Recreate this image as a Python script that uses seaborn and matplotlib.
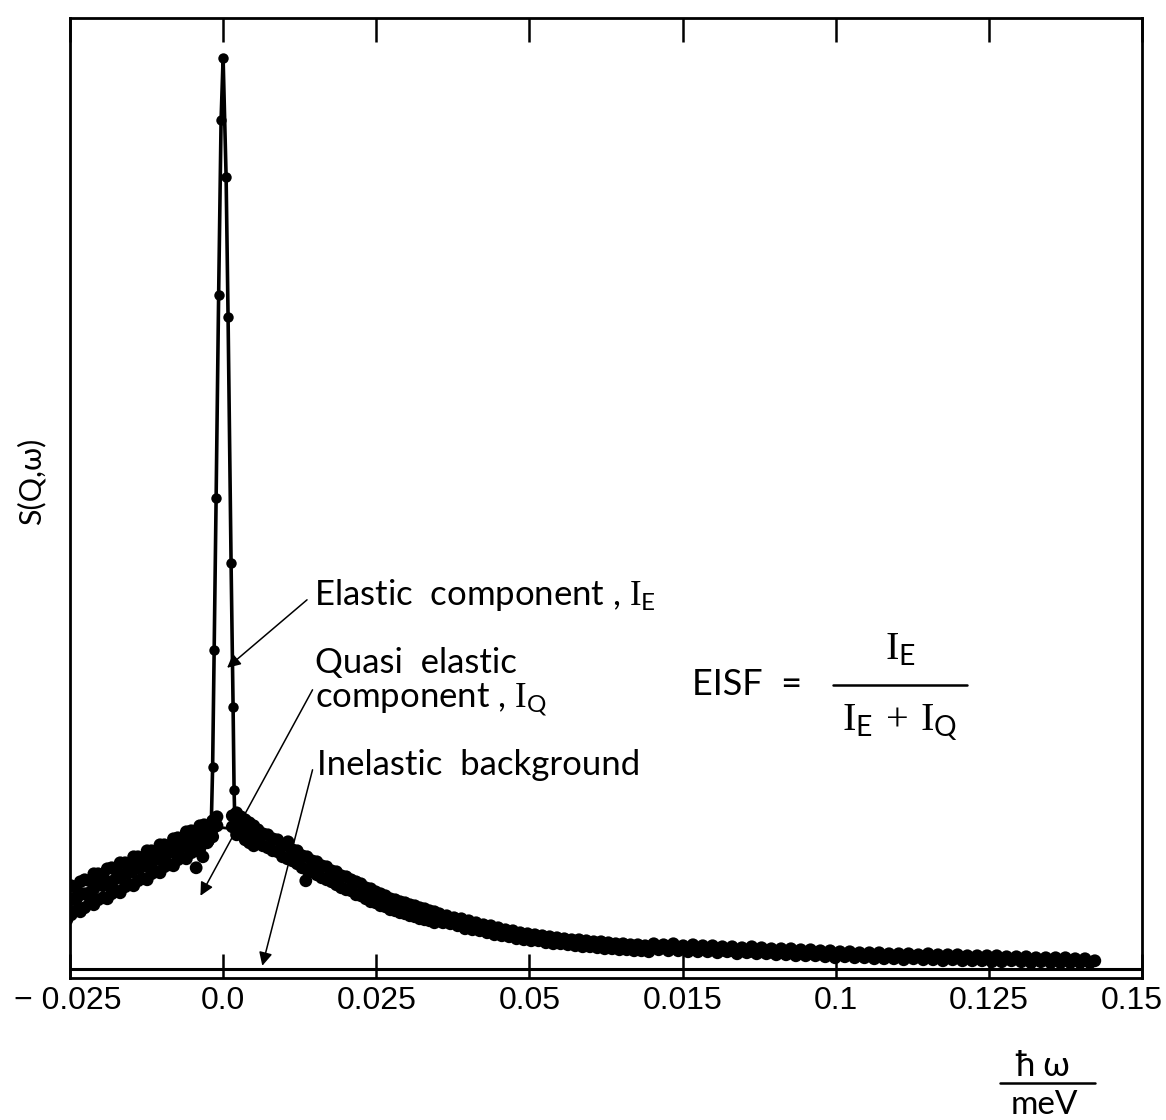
import matplotlib
matplotlib.use("Agg")
import matplotlib.pyplot as plt
from matplotlib.lines import Line2D
from matplotlib.transforms import ScaledTranslation
import numpy as np
import pandas as pd
import seaborn as sns

# energy transfer (meV) and S(Q,w) (arb. units)

# left wing of the quasi-elastic band
hw_left = [-0.0255, -0.0255, -0.0255, -0.0248, -0.0248, -0.0248, -0.0240, -0.0240, -0.0240,
           -0.0233, -0.0233, -0.0233, -0.0226, -0.0226, -0.0226, -0.0218, -0.0218, -0.0218,
           -0.0211, -0.0211, -0.0211, -0.0204, -0.0204, -0.0204, -0.0196, -0.0196, -0.0196,
           -0.0189, -0.0189, -0.0189, -0.0182, -0.0182, -0.0182, -0.0175, -0.0175, -0.0175,
           -0.0168, -0.0168, -0.0168, -0.0160, -0.0160, -0.0160, -0.0153, -0.0153, -0.0153,
           -0.0146, -0.0146, -0.0146, -0.0139, -0.0139, -0.0139, -0.0132, -0.0132, -0.0132,
           -0.0124, -0.0124, -0.0124, -0.0117, -0.0117, -0.0117, -0.0110, -0.0110, -0.0110,
           -0.0103, -0.0103, -0.0103, -0.0096, -0.0096, -0.0096, -0.0088, -0.0088, -0.0088,
           -0.0081, -0.0081, -0.0081, -0.0074, -0.0074, -0.0074, -0.0067, -0.0067, -0.0067,
           -0.0060, -0.0060, -0.0060, -0.0052, -0.0052, -0.0052, -0.0045, -0.0045, -0.0045,
           -0.0038, -0.0038, -0.0038, -0.0031, -0.0031, -0.0031, -0.0024, -0.0024, -0.0024,
           -0.0017, -0.0017, -0.0017, -0.0033, -0.0026, -0.0044]
s_left = [8.2, 6.5, 4.9, 8.3, 7.0, 5.4, 8.1, 6.9, 5.8,
          8.7, 7.4, 5.7, 8.9, 7.5, 6.1, 8.8, 7.6, 6.5,
          9.5, 8.0, 6.4, 9.5, 8.4, 6.9, 9.3, 8.3, 7.1,
          10.0, 8.6, 7.0, 10.1, 8.7, 7.5, 9.9, 9.0, 7.8,
          10.6, 9.2, 7.6, 10.6, 9.5, 8.2, 10.4, 9.6, 8.4,
          11.2, 9.9, 8.3, 11.2, 10.1, 8.8, 11.0, 10.2, 9.0,
          11.8, 10.5, 8.9, 11.8, 10.8, 9.5, 11.6, 10.9, 9.7,
          12.4, 11.2, 9.6, 12.4, 11.3, 10.2, 12.2, 11.6, 10.4,
          13.0, 11.8, 10.3, 13.1, 12.0, 10.9, 13.0, 12.2, 11.1,
          13.7, 12.5, 11.0, 13.8, 12.7, 11.6, 13.6, 12.9, 11.8,
          14.3, 13.1, 12.0, 14.4, 13.4, 12.6, 14.3, 13.7, 12.8,
          14.8, 14.0, 13.2, 11.2, 12.6, 10.1]

# top of the band, under the elastic peak
hw_top = [-0.0010, -0.0010, 0.0015, 0.0015, 0.0022, 0.0022, 0.0022, 0.0029, 0.0029,
          0.0036, 0.0036, 0.0036, 0.0043, 0.0043, 0.0043, 0.0050, 0.0050, 0.0050]
s_top = [15.2, 14.3, 15.3, 14.2, 15.6, 14.5, 13.4, 15.2, 14.0,
         14.9, 13.8, 12.9, 14.6, 13.5, 12.6, 14.3, 13.2, 12.3]

# right wing
hw_right = [0.0057, 0.0057, 0.0065, 0.0065, 0.0073, 0.0073, 0.0081, 0.0081, 0.0089, 0.0089,
            0.0097, 0.0097, 0.0105, 0.0105, 0.0113, 0.0113, 0.0121, 0.0121, 0.0129, 0.0129,
            0.0137, 0.0137, 0.0145, 0.0145, 0.0153, 0.0153, 0.0161, 0.0161, 0.0169, 0.0169,
            0.0177, 0.0177, 0.0185, 0.0185, 0.0193, 0.0193, 0.0201, 0.0201, 0.0209, 0.0209,
            0.0217, 0.0217, 0.0225, 0.0225, 0.0233, 0.0233, 0.0241, 0.0241, 0.0249, 0.0249,
            0.0257, 0.0257, 0.0265, 0.0265, 0.0273, 0.0273, 0.0281, 0.0281, 0.0289, 0.0289,
            0.0297, 0.0297, 0.0305, 0.0305, 0.0313, 0.0313, 0.0321, 0.0321, 0.0329, 0.0329,
            0.0337, 0.0337, 0.0345, 0.0345, 0.0106, 0.0135]
s_right = [13.9, 12.8, 13.5, 12.3, 13.4, 12.1, 13.0, 11.8, 12.9, 11.7,
           12.4, 11.2, 12.3, 11.0, 11.9, 10.8, 11.8, 10.5, 11.3, 10.1,
           11.2, 9.9, 10.8, 9.7, 10.7, 9.4, 10.3, 9.1, 10.2, 8.9,
           9.8, 8.7, 9.7, 8.4, 9.3, 8.1, 9.2, 7.9, 8.9, 7.8,
           8.7, 7.4, 8.5, 7.3, 8.1, 7.0, 8.0, 6.7, 7.7, 6.6,
           7.5, 6.3, 7.3, 6.2, 7.0, 5.9, 6.9, 5.8, 6.7, 5.6,
           6.6, 5.5, 6.4, 5.3, 6.3, 5.2, 6.1, 5.0, 6.0, 4.9,
           5.8, 4.8, 5.7, 4.6, 12.7, 8.8]

# middle section
hw_mid = [0.0353, 0.0359, 0.0365, 0.0371, 0.0377, 0.0383, 0.0389, 0.0395, 0.0401, 0.0407,
          0.0413, 0.0419, 0.0425, 0.0431, 0.0437, 0.0443, 0.0449, 0.0455, 0.0461, 0.0467,
          0.0473, 0.0479, 0.0485, 0.0491, 0.0497, 0.0503, 0.0509, 0.0515, 0.0521, 0.0527,
          0.0533, 0.0539, 0.0545, 0.0551, 0.0557, 0.0563, 0.0569, 0.0575, 0.0581, 0.0587,
          0.0593, 0.0599, 0.0605, 0.0611, 0.0617, 0.0623, 0.0629, 0.0635, 0.0641, 0.0647,
          0.0653, 0.0659, 0.0665, 0.0671, 0.0677, 0.0683, 0.0689, 0.0695]
s_mid = [5.5, 4.6, 5.3, 4.5, 5.1, 4.3, 5.0, 4.0, 4.8, 3.9,
         4.6, 3.8, 4.4, 3.6, 4.3, 3.4, 4.1, 3.3, 3.9, 3.2,
         3.8, 3.0, 3.6, 2.9, 3.5, 2.8, 3.4, 2.8, 3.3, 2.6,
         3.2, 2.5, 3.1, 2.5, 3.0, 2.4, 2.9, 2.3, 2.9, 2.2,
         2.8, 2.2, 2.7, 2.1, 2.7, 2.0, 2.6, 2.0, 2.5, 1.9,
         2.5, 1.9, 2.4, 1.8, 2.4, 1.8, 2.3, 1.7]

# long tail
hw_tail = [0.0703, 0.0711, 0.0719, 0.0727, 0.0735, 0.0743, 0.0751, 0.0759, 0.0767, 0.0775,
           0.0783, 0.0791, 0.0799, 0.0807, 0.0815, 0.0823, 0.0831, 0.0839, 0.0847, 0.0855,
           0.0863, 0.0871, 0.0879, 0.0887, 0.0895, 0.0903, 0.0911, 0.0919, 0.0927, 0.0935,
           0.0943, 0.0951, 0.0959, 0.0967, 0.0975, 0.0983, 0.0991, 0.0999, 0.1007, 0.1015,
           0.1023, 0.1031, 0.1039, 0.1047, 0.1055, 0.1063, 0.1071, 0.1079, 0.1087, 0.1095,
           0.1103, 0.1111, 0.1119, 0.1127, 0.1135, 0.1143, 0.1151, 0.1159, 0.1167, 0.1175,
           0.1183, 0.1191, 0.1199, 0.1207, 0.1215, 0.1223, 0.1231, 0.1239, 0.1247, 0.1255,
           0.1263, 0.1271, 0.1279, 0.1287, 0.1295, 0.1303, 0.1311, 0.1319, 0.1327, 0.1335,
           0.1343, 0.1351, 0.1359, 0.1367, 0.1375, 0.1383, 0.1391, 0.1399, 0.1407, 0.1415,
           0.1423]
s_tail = [2.5, 1.9, 2.4, 1.8, 2.5, 1.8, 2.3, 1.7, 2.4, 1.7,
          2.3, 1.7, 2.3, 1.6, 2.2, 1.7, 2.2, 1.5, 2.1, 1.6,
          2.2, 1.5, 2.1, 1.5, 2.0, 1.4, 2.0, 1.4, 2.0, 1.3,
          1.9, 1.3, 1.9, 1.3, 1.8, 1.2, 1.8, 1.1, 1.7, 1.2,
          1.7, 1.1, 1.6, 1.1, 1.6, 1.0, 1.6, 1.0, 1.5, 1.0,
          1.5, 0.9, 1.5, 1.0, 1.4, 0.9, 1.5, 0.9, 1.4, 0.8,
          1.4, 0.9, 1.4, 0.8, 1.3, 0.8, 1.3, 0.8, 1.3, 0.7,
          1.3, 0.7, 1.2, 0.8, 1.2, 0.7, 1.2, 0.6, 1.1, 0.7,
          1.1, 0.6, 1.1, 0.6, 1.1, 0.6, 1.0, 0.6, 1.0, 0.6,
          0.8]

# elastic peak points (joined in measured order)
hw_el = [-0.00195, -0.00171, -0.00146, -0.00114, -0.00073, -0.00033, 0.0,
         0.00049, 0.00081, 0.0013, 0.00163, 0.00179, 0.00195]
s_el = [13.9, 20.2, 31.9, 47.1, 67.4, 84.9, 91.1,
        79.2, 65.2, 40.6, 26.2, 17.9, 13.9]

# quasi-elastic fit curve
hw_fit = [-0.0255, -0.022, -0.018, -0.014, -0.010, -0.006, -0.003, -0.0015, 0.0, 0.0015,
          0.003, 0.006, 0.010, 0.015, 0.020, 0.025, 0.030, 0.035, 0.040, 0.045,
          0.050, 0.055, 0.060, 0.070, 0.080, 0.090, 0.100, 0.110, 0.120, 0.130, 0.1425]
s_fit = [6.5, 7.6, 8.8, 10.0, 11.3, 12.6, 13.6, 14.0, 14.1, 14.0,
         13.7, 12.8, 11.5, 9.9, 8.4, 7.0, 5.8, 4.8, 4.0, 3.4,
         2.9, 2.5, 2.15, 1.7, 1.4, 1.15, 0.95, 0.8, 0.7, 0.6, 0.5]

tick_values = [-0.025, 0.0, 0.025, 0.05, 0.075, 0.1, 0.125, 0.15]
tick_labels = ['\u2212 0.025', '0.0', '0.025', '0.05', '0.015', '0.1', '0.125', '0.15']

sns.set_theme(style='ticks')
plt.rcParams['font.family'] = ['Lato', 'DejaVu Sans']
plt.rcParams['mathtext.fontset'] = 'custom'
plt.rcParams['mathtext.rm'] = 'Liberation Serif'
plt.rcParams['mathtext.sf'] = 'Lato'
plt.rcParams['mathtext.it'] = 'Lato'

obs = pd.DataFrame({
    'hw': hw_left + hw_top + hw_right + hw_mid + hw_tail,
    'S': s_left + s_top + s_right + s_mid + s_tail,
})

fig = plt.figure(figsize=(11.66, 11.2), dpi=100)
ax = fig.add_axes([0.060, 0.127, 0.9194, 0.857])

sns.scatterplot(data=obs, x='hw', y='S', ax=ax, color='black', s=85,
                edgecolor='none', linewidth=0, zorder=3)
sns.lineplot(x=hw_fit, y=s_fit, ax=ax, color='black', lw=2.0, zorder=2)
sns.lineplot(x=hw_el, y=s_el, ax=ax, sort=False, estimator=None, color='black',
             lw=2.6, marker='o', markersize=7.5, markeredgewidth=0, zorder=4)
ax.axhline(0, color='black', lw=2.2, zorder=1)

ax.set_xlim(-0.025, 0.15)
ax.set_ylim(-0.9, 95.1)
ax.set_yticks([])
ax.set_xticks(tick_values)
ax.set_xticklabels(tick_labels, fontsize=23, family=['Liberation Sans', 'DejaVu Sans'])
ax.tick_params(axis='x', direction='in', length=17, width=1.8, top=True, pad=6,
               colors='black')
labels = ax.get_xticklabels()
labels[0].set_transform(labels[0].get_transform()
                        + ScaledTranslation(-0.02, 0, fig.dpi_scale_trans))
labels[-1].set_transform(labels[-1].get_transform()
                         + ScaledTranslation(-0.10, 0, fig.dpi_scale_trans))
ax.set_xlabel('')
ax.set_ylabel('')
for sp in ax.spines.values():
    sp.set_linewidth(2.0)
    sp.set_color('black')

# annotations
txt = dict(fontsize=25, color='black', va='center', ha='left')
ax.text(0.0148, 37.4, r'Elastic  component , $\mathrm{I}_{\mathsf{E}}$', **txt)
ax.text(0.0150, 30.6, 'Quasi  elastic', **txt)
ax.text(0.0150, 26.9, r'component , $\mathrm{I}_{\mathsf{Q}}$', **txt)
ax.text(0.0153, 20.4, 'Inelastic  background', **txt)

arrow = dict(arrowstyle='-|>', lw=1.1, color='black', mutation_scale=20,
             shrinkA=0, shrinkB=0)
ax.annotate('', xy=(0.00065, 30.1), xytext=(0.0137, 36.9), arrowprops=arrow)
ax.annotate('', xy=(-0.0037, 7.3), xytext=(0.0146, 27.9), arrowprops=arrow)
ax.annotate('', xy=(0.0064, 0.3), xytext=(0.0146, 19.9), arrowprops=arrow)

# EISF formula
ax.text(0.0765, 28.4, 'EISF  =', fontsize=26, va='center', ha='left', color='black')
ax.text(0.1105, 31.9, r'$\mathrm{I}_{\mathsf{E}}$', fontsize=29, va='center',
        ha='center', color='black')
ax.add_line(Line2D([0.0995, 0.1215], [28.4, 28.4], color='black', lw=1.8))
ax.text(0.1105, 24.6, r'$\mathrm{I}_{\mathsf{E}}\,+\,\mathrm{I}_{\mathsf{Q}}$', fontsize=29,
        va='center', ha='center', color='black')

# axis labels
fig.text(0.027, 0.57, 'S(Q,ω)', rotation=90, fontsize=22, va='center',
         ha='center', color='black')
fig.text(0.894, 0.048, 'ħ ω', fontsize=25, va='center', ha='center', color='black')
fig.add_artist(Line2D([0.858, 0.939], [0.033, 0.033], color='black', lw=1.8,
                      transform=fig.transFigure))
fig.text(0.896, 0.013, 'meV', fontsize=24, va='center', ha='center', color='black')

fig.savefig('out.png', dpi=100, facecolor='white')
